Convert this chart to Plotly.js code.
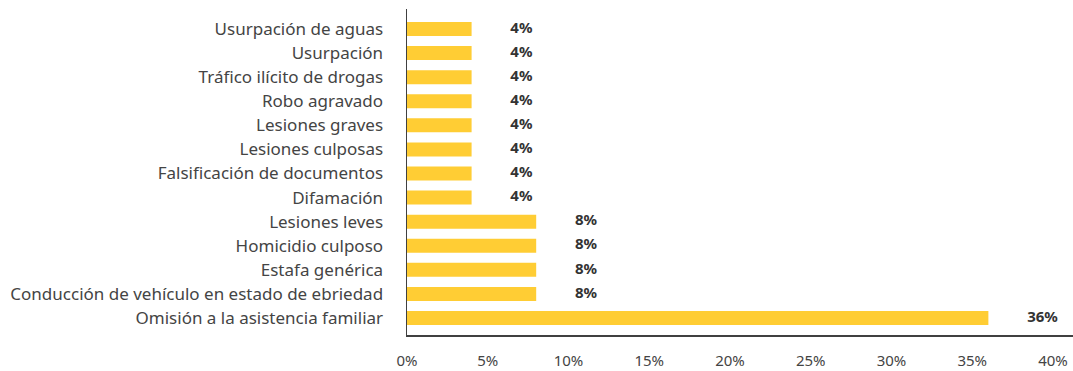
<!DOCTYPE html>
<html><head><meta charset="utf-8">
<script src="https://cdn.plot.ly/plotly-3.0.1.min.js"></script>
<style>html,body{margin:0;padding:0;background:#fff}</style>
</head><body>
<div id="chart" style="width:1073px;height:371px"></div>
<script>
const categories = [
  "Omisión a la asistencia familiar",
  "Conducción de vehículo en estado de ebriedad",
  "Estafa genérica",
  "Homicidio culposo",
  "Lesiones leves",
  "Difamación",
  "Falsificación de documentos",
  "Lesiones culposas",
  "Lesiones graves",
  "Robo agravado",
  "Tráfico ilícito de drogas",
  "Usurpación",
  "Usurpación de aguas"
];
const values = [36, 8, 8, 8, 8, 4, 4, 4, 4, 4, 4, 4, 4];
const tickVals = [0, 5, 10, 15, 20, 25, 30, 35, 40];
const tickText = ["0%", "5%", "10%", "15%", "20%", "25%", "30%", "35%", "40%"];

const labelOffset = 2.4;
const bars = {
  type: 'bar', orientation: 'h',
  x: values, y: categories,
  marker: {color: '#FFCD34'},
  hoverinfo: 'none'
};
const labels = {
  type: 'scatter', mode: 'text',
  x: values.map(v => v + labelOffset), y: categories,
  text: values.map(v => '<b>' + v + '%</b>'),
  textposition: 'middle right',
  textfont: {family: 'Noto Sans', size: 15, color: '#333333'},
  hoverinfo: 'none', cliponaxis: false
};
const layout = {
  width: 1073, height: 371,
  margin: {l: 407, r: 0, t: 9, b: 36},
  showlegend: false,
  bargap: 0.42,
  paper_bgcolor: '#fff', plot_bgcolor: '#fff',
  font: {family: 'Noto Sans', color: '#444'},
  xaxis: {
    range: [0, 41.24], tickvals: tickVals, ticktext: tickText,
    showgrid: false, zeroline: false,
    showline: true, linecolor: '#404040', linewidth: 1.5,
    ticks: 'outside', ticklen: 11, tickcolor: 'rgba(0,0,0,0)',
    tickfont: {family: 'Noto Sans', size: 15, color: '#444'}
  },
  yaxis: {
    type: 'category', categoryorder: 'array', categoryarray: categories,
    range: [-0.706, 12.83],
    showgrid: false, zeroline: false,
    showline: true, linecolor: '#404040', linewidth: 1.5,
    ticks: 'outside', ticklen: 19, tickcolor: 'rgba(0,0,0,0)',
    tickfont: {family: 'Noto Sans', size: 17, color: '#444'}
  }
};
Plotly.newPlot('chart', [bars, labels], layout, {displayModeBar: false, staticPlot: true});
</script>
</body></html>
